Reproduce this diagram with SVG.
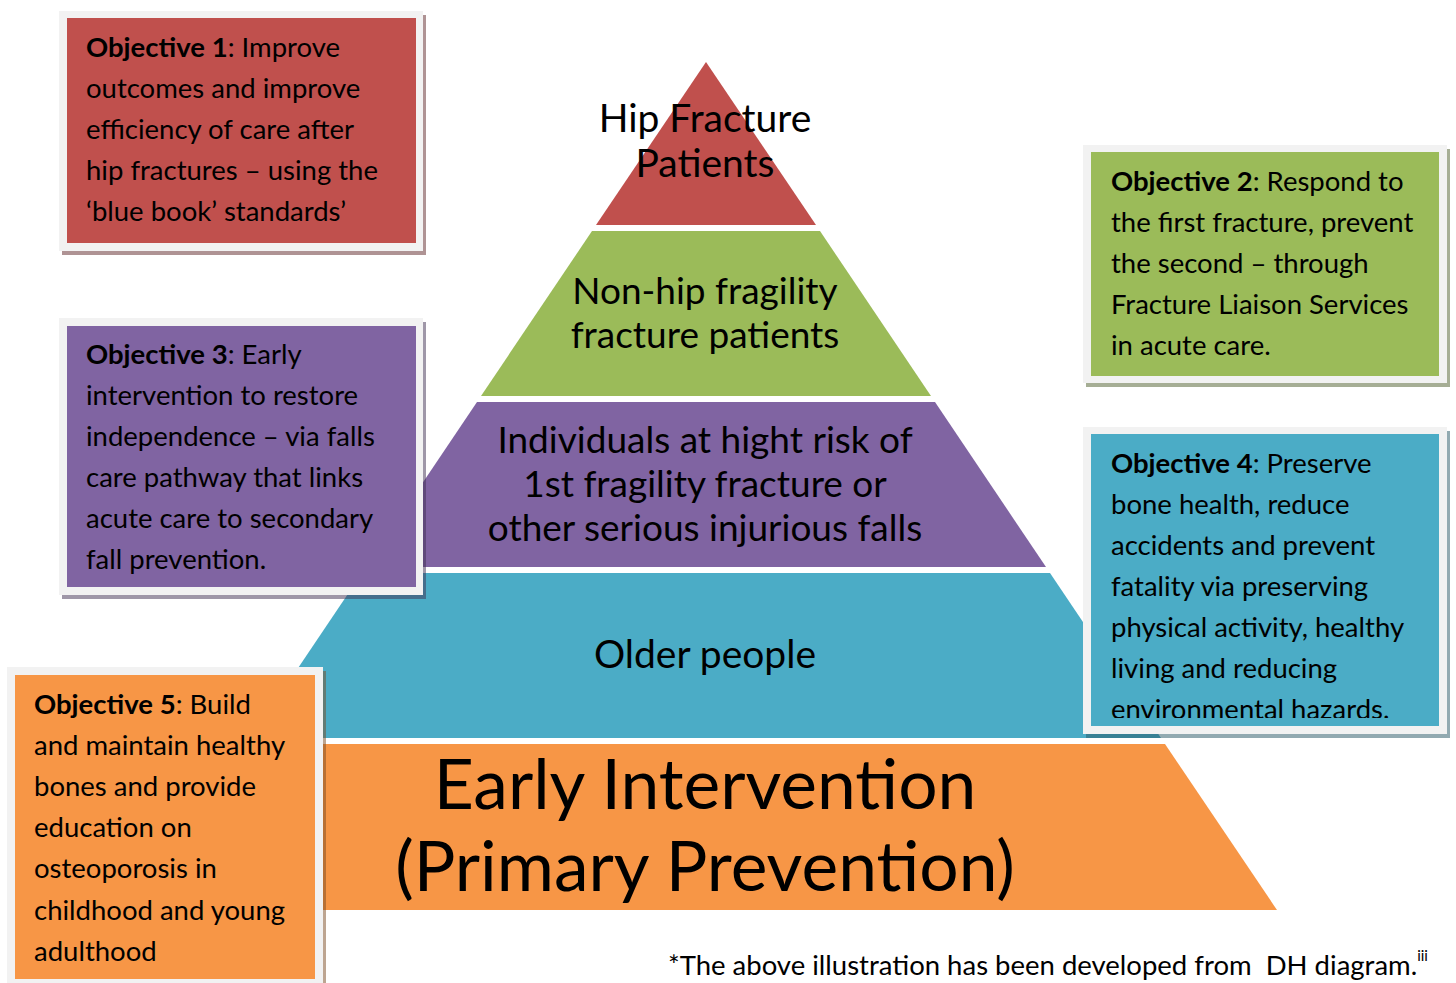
<svg xmlns="http://www.w3.org/2000/svg" width="1456" height="983" viewBox="0 0 1456 983">
  <style>
    .tier { font-family: Lato, "Open Sans", sans-serif; fill: #000; text-anchor: middle; }
    .obj { font-family: Lato, "Open Sans", sans-serif; font-size: 27.5px; fill: #000; }
    .frame { fill: #f2f2f2; }
    .b { font-weight: bold; }
  </style>
  <defs>
    <clipPath id="clip4"><rect x="1091" y="434" width="348" height="284"/></clipPath>
  </defs>
  <rect width="1456" height="983" fill="#fff"/>

  <!-- pyramid tiers, top to bottom -->
  <g id="tier-hip">
    <polygon points="706,62 816,225 596,225" fill="#c0504d"/>
    <text class="tier" x="705" y="132" font-size="39">Hip Fracture</text>
    <text class="tier" x="705" y="177" font-size="39">Patients</text>
  </g>
  <g id="tier-nonhip">
    <polygon points="592,231 820,231 931,396 481,396" fill="#9bbb59"/>
    <text class="tier" x="705" y="304" font-size="37">Non-hip fragility</text>
    <text class="tier" x="705" y="348" font-size="37">fracture patients</text>
  </g>
  <g id="tier-risk">
    <polygon points="477,402 935,402 1046,567 366,567" fill="#8064a2"/>
    <text class="tier" x="705" y="453" font-size="37">Individuals at hight risk of</text>
    <text class="tier" x="705" y="497" font-size="37">1st fragility fracture or</text>
    <text class="tier" x="705" y="541" font-size="37">other serious injurious falls</text>
  </g>
  <g id="tier-older">
    <polygon points="362,573 1050,573 1161,738 251,738" fill="#4bacc6"/>
    <text class="tier" x="705" y="668" font-size="39">Older people</text>
  </g>
  <g id="tier-early">
    <polygon points="247,744 1165,744 1277,910 135,910" fill="#f79646"/>
    <text class="tier" x="705" y="809" font-size="69.5">Early Intervention</text>
    <text class="tier" x="705" y="891" font-size="69.5">(Primary Prevention)</text>
  </g>

  <!-- objective boxes -->
  <g id="objective-1">
    <rect x="62" y="15" width="364" height="240" fill="#60282a" opacity="0.5"/>
    <rect class="frame" x="59" y="11" width="364" height="240"/>
    <rect x="67" y="18" width="349" height="225" fill="#c0504d"/>
    <text class="obj" x="86" y="57"><tspan class="b">Objective 1</tspan>: Improve</text>
    <text class="obj" x="86" y="98">outcomes and improve</text>
    <text class="obj" x="86" y="139">efficiency of care after</text>
    <text class="obj" x="86" y="180">hip fractures – using the</text>
    <text class="obj" x="86" y="221">‘blue book’ standards’</text>
  </g>

  <g id="objective-3">
    <rect x="62" y="322" width="364" height="277" fill="#402f52" opacity="0.5"/>
    <rect class="frame" x="59" y="318" width="364" height="277"/>
    <rect x="67" y="326" width="349" height="261" fill="#8064a2"/>
    <text class="obj" x="86" y="364"><tspan class="b">Objective 3</tspan>: Early</text>
    <text class="obj" x="86" y="405">intervention to restore</text>
    <text class="obj" x="86" y="446">independence – via falls</text>
    <text class="obj" x="86" y="487">care pathway that links</text>
    <text class="obj" x="86" y="528">acute care to secondary</text>
    <text class="obj" x="86" y="569">fall prevention.</text>
  </g>

  <g id="objective-2">
    <rect x="1086" y="149" width="364" height="238" fill="#4d5d2c" opacity="0.5"/>
    <rect class="frame" x="1083" y="145" width="364" height="238"/>
    <rect x="1091" y="152" width="348" height="224" fill="#9bbb59"/>
    <text class="obj" x="1111" y="191"><tspan class="b">Objective 2</tspan>: Respond to</text>
    <text class="obj" x="1111" y="232">the first fracture, prevent</text>
    <text class="obj" x="1111" y="273">the second – through</text>
    <text class="obj" x="1111" y="314">Fracture Liaison Services</text>
    <text class="obj" x="1111" y="355">in acute care.</text>
  </g>

  <g id="objective-4">
    <rect x="1086" y="431" width="364" height="307" fill="#255663" opacity="0.5"/>
    <rect class="frame" x="1083" y="427" width="364" height="307"/>
    <rect x="1091" y="434" width="348" height="292" fill="#4bacc6"/>
    <g clip-path="url(#clip4)">
      <text class="obj" x="1111" y="473"><tspan class="b">Objective 4</tspan>: Preserve</text>
      <text class="obj" x="1111" y="514">bone health, reduce</text>
      <text class="obj" x="1111" y="555">accidents and prevent</text>
      <text class="obj" x="1111" y="596">fatality via preserving</text>
      <text class="obj" x="1111" y="637">physical activity, healthy</text>
      <text class="obj" x="1111" y="678">living and reducing</text>
      <text class="obj" x="1111" y="719">environmental hazards.</text>
    </g>
  </g>

  <g id="objective-5">
    <rect x="10" y="671" width="316" height="316" fill="#7b4b23" opacity="0.5"/>
    <rect class="frame" x="7" y="667" width="316" height="316"/>
    <rect x="15" y="675" width="300" height="304" fill="#f79646"/>
    <text class="obj" x="34" y="714"><tspan class="b">Objective 5</tspan>: Build</text>
    <text class="obj" x="34" y="755">and maintain healthy</text>
    <text class="obj" x="34" y="796">bones and provide</text>
    <text class="obj" x="34" y="837">education on</text>
    <text class="obj" x="34" y="878">osteoporosis in</text>
    <text class="obj" x="34" y="920">childhood and young</text>
    <text class="obj" x="34" y="961">adulthood</text>
  </g>

  <!-- source note -->
  <g id="footnote">
    <text class="obj" x="668" y="975" xml:space="preserve">*The above illustration has been developed from  DH diagram.<tspan font-size="15" dy="-14">iii</tspan></text>
  </g>

  <g id="connectors"/>
</svg>
